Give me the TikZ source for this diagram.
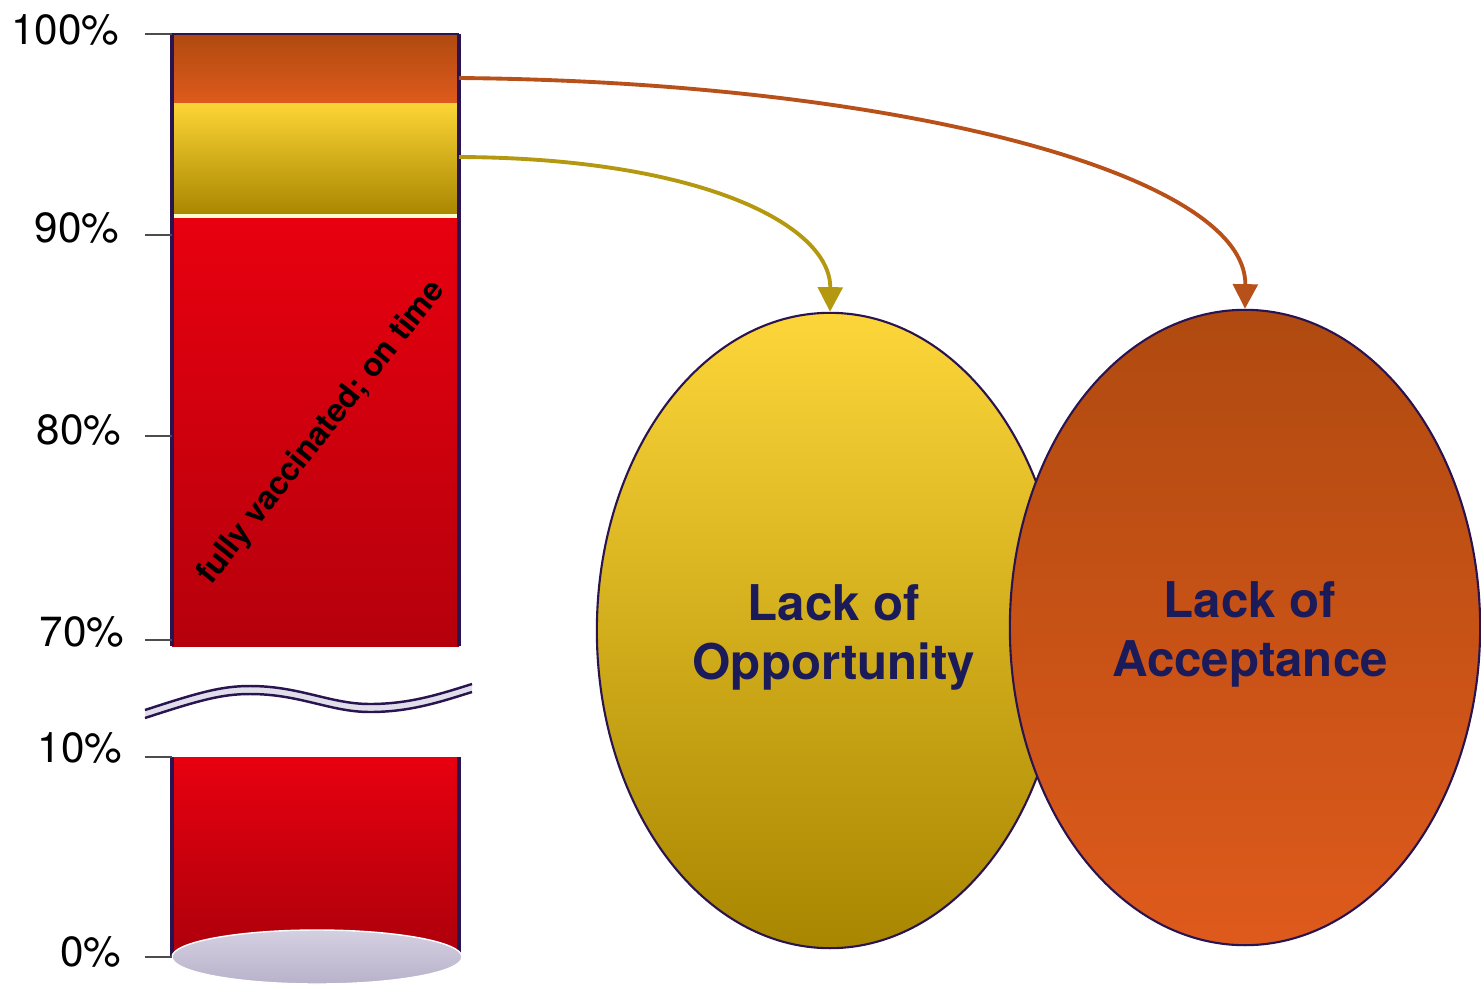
\documentclass[tikz,border=0pt]{standalone}
\usepackage{fontspec}
\setmainfont{TeX Gyre Heros}
\usetikzlibrary{shapes.geometric,arrows.meta}
\definecolor{edgenavy}{HTML}{2A1450}
\definecolor{orgtop}{HTML}{B04A10}
\definecolor{orgbot}{HTML}{DE5A1C}
\definecolor{goldtop}{HTML}{FCD535}
\definecolor{goldbot}{HTML}{A88600}
\definecolor{redtop}{HTML}{E8000F}
\definecolor{redbot}{HTML}{B5000C}
\definecolor{txtnavy}{HTML}{1B1B5A}
\definecolor{arrorg}{HTML}{B8501A}
\definecolor{arrgold}{HTML}{B39810}
\definecolor{lav}{HTML}{D4D0E2}
\definecolor{lavdark}{HTML}{B8B2CA}
\tikzset{
  pct/.style={anchor=east, font=\fontsize{12pt}{14pt}\selectfont, inner sep=0pt},
  tickline/.style={draw=black!70, line width=0.5pt},
  baredge/.style={draw=edgenavy, line width=1.1pt},
  blob/.style={ellipse, draw=edgenavy, line width=0.6pt, align=center, inner sep=0pt},
  conn/.style={line width=1.1pt, -{Triangle[length=7pt,width=7pt]}},
}
\begin{document}
\begin{tikzpicture}[x=0.01cm,y=-0.01cm]
\useasboundingbox (0,0) rectangle (1481,987);
% ---- upper bar segments
\shade[top color=orgtop, bottom color=orgbot] (172,34) rectangle (459,103);
\shade[top color=goldtop, bottom color=goldbot] (172,103) rectangle (459,215);
\fill[white!80!yellow] (172,214) rectangle (459,218);
\shade[top color=redtop, bottom color=redbot] (172,218) rectangle (459,646);
\draw[baredge] (172,34) -- (172,646);
\draw[baredge] (459,34) -- (459,646);
\draw[edgenavy, line width=0.4pt] (172,34) -- (459,34);
\coordinate (orgport) at (459,78);
\coordinate (goldport) at (459,157);
% ---- lower bar
\shade[top color=redtop, bottom color=redbot!95!black] (172,757) rectangle (459,957);
\draw[baredge] (172,757) -- (172,957);
\draw[baredge] (459,757) -- (459,957);
\shade[top color=lav, bottom color=lavdark, draw=white] (317,957) ellipse (145 and 27);
% ---- break mark
\fill[lav!70!white] (145,710) .. controls (200,692) and (222,686) .. (250,686)
  .. controls (300,686) and (330,704) .. (370,704)
  .. controls (410,704) and (440,694) .. (472,684) -- (472,692)
  .. controls (440,702) and (410,712) .. (370,712)
  .. controls (330,712) and (300,694) .. (250,694)
  .. controls (222,694) and (200,700) .. (145,718) -- cycle;
\draw[edgenavy, line width=0.7pt] (145,710) .. controls (200,692) and (222,686) .. (250,686)
  .. controls (300,686) and (330,704) .. (370,704)
  .. controls (410,704) and (440,694) .. (472,684);
\draw[edgenavy, line width=0.7pt] (145,718) .. controls (200,700) and (222,694) .. (250,694)
  .. controls (300,694) and (330,712) .. (370,712)
  .. controls (410,712) and (440,702) .. (472,692);
% ---- axis labels and ticks
\node[pct] (l100) at (120,30) {100\%};
\node[pct] (l90) at (120,228) {90\%};
\node[pct] (l80) at (122,430) {80\%};
\node[pct] (l70) at (125,632) {70\%};
\node[pct] (l10) at (123,748) {10\%};
\node[pct] (l0) at (122,952) {0\%};
\draw[tickline] (145,34) -- (172,34);
\draw[tickline] (145,235) -- (172,235);
\draw[tickline] (145,436) -- (172,436);
\draw[tickline] (145,640) -- (172,640);
\draw[tickline] (145,757) -- (172,757);
\draw[tickline] (145,957) -- (172,957);
% ---- rotated bar text
\node[rotate=51.5, font=\fontsize{9.2pt}{11pt}\selectfont\bfseries, inner sep=0pt] (fv) at (322,433) {fully vaccinated; on time};
% ---- ellipses
\node[blob, minimum width=4.66cm, minimum height=6.35cm, top color=goldtop!98!white, bottom color=goldbot] (opp) at (830,630.5) {};
\node[blob, minimum width=4.70cm, minimum height=6.35cm, top color=orgtop, bottom color=orgbot] (acc) at (1245,627.5) {};
\node[font=\fontsize{14pt}{16.8pt}\selectfont\bfseries, text=txtnavy, align=center] (opptxt) at (834,637) {Lack of\\Opportunity};
\node[font=\fontsize{14pt}{16.8pt}\selectfont\bfseries, text=txtnavy, align=center] (acctxt) at (1250,634) {Lack of\\Acceptance};
% ---- connectors
\draw[conn, arrorg] (orgport) .. controls (900,82) and (1247,175) .. (acc.north);
\draw[conn, arrgold] (goldport) .. controls (700,158) and (831,225) .. (opp.north);
\end{tikzpicture}
\end{document}
